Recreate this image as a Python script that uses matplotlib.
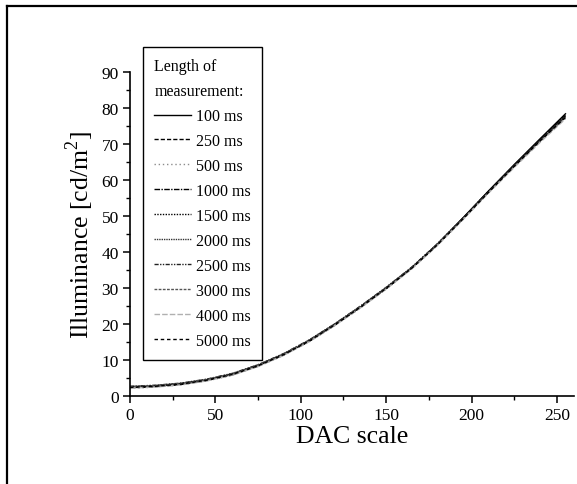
'''
	Illuminance of the display versus DAC scale value, measured with
	different lengths of measurement.
'''

import matplotlib
matplotlib.use('Agg')
import matplotlib.pyplot as plt 				# Library to visualize data
from matplotlib.lines import Line2D
from matplotlib.ticker import MultipleLocator


# *** Data ***

dacScale = [0, 15, 30, 45, 60, 75, 90, 105, 120, 135, 150, 165, 180, 195, 210, 225, 240, 255]

lengths = ["100 ms", "250 ms", "500 ms", "1000 ms", "1500 ms",
	"2000 ms", "2500 ms", "3000 ms", "4000 ms", "5000 ms"]

lum100 = [2.5, 2.7, 3.3, 4.4, 6.0, 8.4, 11.5, 15.3, 19.8, 24.7, 29.9, 35.6, 42.2, 49.5, 57.0, 64.3, 71.4, 78.4]
lum250 = [2.3, 2.6, 3.2, 4.3, 5.9, 8.3, 11.4, 15.2, 19.7, 24.6, 29.8, 35.5, 42.0, 49.3, 56.8, 64.0, 71.0, 77.9]
lum500 = [2.1, 2.5, 3.1, 4.2, 5.8, 8.2, 11.3, 15.1, 19.6, 24.5, 29.7, 35.4, 41.9, 49.1, 56.6, 63.8, 70.8, 77.6]
lum1000 = [2.6, 2.9, 3.5, 4.6, 6.2, 8.6, 11.7, 15.5, 20.0, 24.9, 30.1, 35.7, 42.2, 49.4, 56.9, 64.1, 71.1, 78.0]
lum1500 = [2.4, 2.8, 3.4, 4.5, 6.1, 8.5, 11.6, 15.4, 19.9, 24.8, 30.0, 35.6, 42.1, 49.3, 56.8, 64.0, 71.0, 77.8]
lum2000 = [2.5, 2.8, 3.4, 4.5, 6.1, 8.5, 11.6, 15.4, 19.9, 24.8, 30.0, 35.6, 42.1, 49.3, 56.7, 63.9, 70.9, 77.7]
lum2500 = [2.7, 3.0, 3.6, 4.7, 6.3, 8.7, 11.8, 15.6, 20.1, 25.0, 30.2, 35.8, 42.3, 49.4, 56.8, 64.0, 71.0, 77.6]
lum3000 = [2.6, 2.9, 3.5, 4.6, 6.2, 8.6, 11.7, 15.5, 20.0, 24.9, 30.1, 35.7, 42.1, 49.2, 56.6, 63.8, 70.7, 77.3]
lum4000 = [2.2, 2.5, 3.1, 4.2, 5.8, 8.2, 11.3, 15.1, 19.6, 24.5, 29.7, 35.3, 41.8, 49.0, 56.4, 63.5, 70.4, 77.0]
lum5000 = [2.4, 2.7, 3.3, 4.4, 6.0, 8.4, 11.5, 15.3, 19.8, 24.7, 29.9, 35.5, 42.0, 49.2, 56.6, 63.8, 70.8, 77.4]

allLum = [lum100, lum250, lum500, lum1000, lum1500,
	lum2000, lum2500, lum3000, lum4000, lum5000]

# Line style and colour per length of measurement.
styles = [
	('-', 'black'),
	((0, (3, 1.5)), 'black'),
	((0, (1, 2)), '#8c8c8c'),
	((0, (4, 1, 1, 1)), 'black'),
	((0, (1, 1)), 'black'),
	((0, (1, 0.7)), '#333333'),
	((0, (3, 1, 1, 1, 1, 1)), '#222222'),
	((0, (2, 1)), '#555555'),
	((0, (4, 1.5)), '#b0b0b0'),
	((0, (2.5, 2)), 'black'),
]


plt.rcParams['font.family'] = ['Liberation Serif', 'DejaVu Serif']
plt.rcParams['mathtext.fontset'] = 'custom'
plt.rcParams['mathtext.rm'] = 'Liberation Serif'

fig = plt.figure(figsize=(5.77, 4.85), dpi=100)
ax = fig.add_axes([0.2253, 0.1814, 0.7695, 0.668])

for lum, (ls, col) in zip(allLum, styles):
	ax.plot(dacScale, lum, linestyle=ls, color=col, linewidth=1.0)

ax.set_xlim(0, 260)
ax.set_ylim(0, 90)
ax.xaxis.set_major_locator(MultipleLocator(50))
ax.xaxis.set_minor_locator(MultipleLocator(25))
ax.yaxis.set_major_locator(MultipleLocator(10))
ax.yaxis.set_minor_locator(MultipleLocator(5))

ax.spines['top'].set_visible(False)
ax.spines['right'].set_visible(False)
ax.spines['left'].set_linewidth(1.2)
ax.spines['bottom'].set_linewidth(1.2)
ax.tick_params(which='major', direction='out', length=5, width=1.1, labelsize=12.5, pad=3)
ax.tick_params(which='minor', direction='out', length=3, width=1.0)

ax.set_xlabel('DAC scale', fontsize=18.5, labelpad=1)
ax.set_ylabel(r'Illuminance [cd/m$^\mathrm{2}$]', fontsize=18.5, labelpad=4)

# Legend, it sticks out above the axes.
handles = [Line2D([], [], linestyle=ls, color=col, linewidth=1.0) for ls, col in styles]
leg = fig.legend(handles, lengths, title='Length of\nmeasurement:',
	loc='upper left', bbox_to_anchor=(0.248, 0.901), bbox_transform=fig.transFigure,
	borderaxespad=0, fontsize=11.5, title_fontsize=11.5, fancybox=False,
	edgecolor='black', framealpha=1, handlelength=2.3, handletextpad=0.3,
	labelspacing=0.56, borderpad=0.7, alignment='left')
leg.get_frame().set_linewidth(1.0)
leg.get_title().set_linespacing(1.75)

# Frame round the figure (left and top edges are visible).
fig.add_artist(Line2D([7 / 577, 7 / 577], [0, 1 - 7 / 485], color='black',
	linewidth=1.6, transform=fig.transFigure))
fig.add_artist(Line2D([7 / 577, 1], [1 - 7 / 485, 1 - 7 / 485], color='black',
	linewidth=1.6, transform=fig.transFigure))

fig.savefig('out.png', dpi=100)
